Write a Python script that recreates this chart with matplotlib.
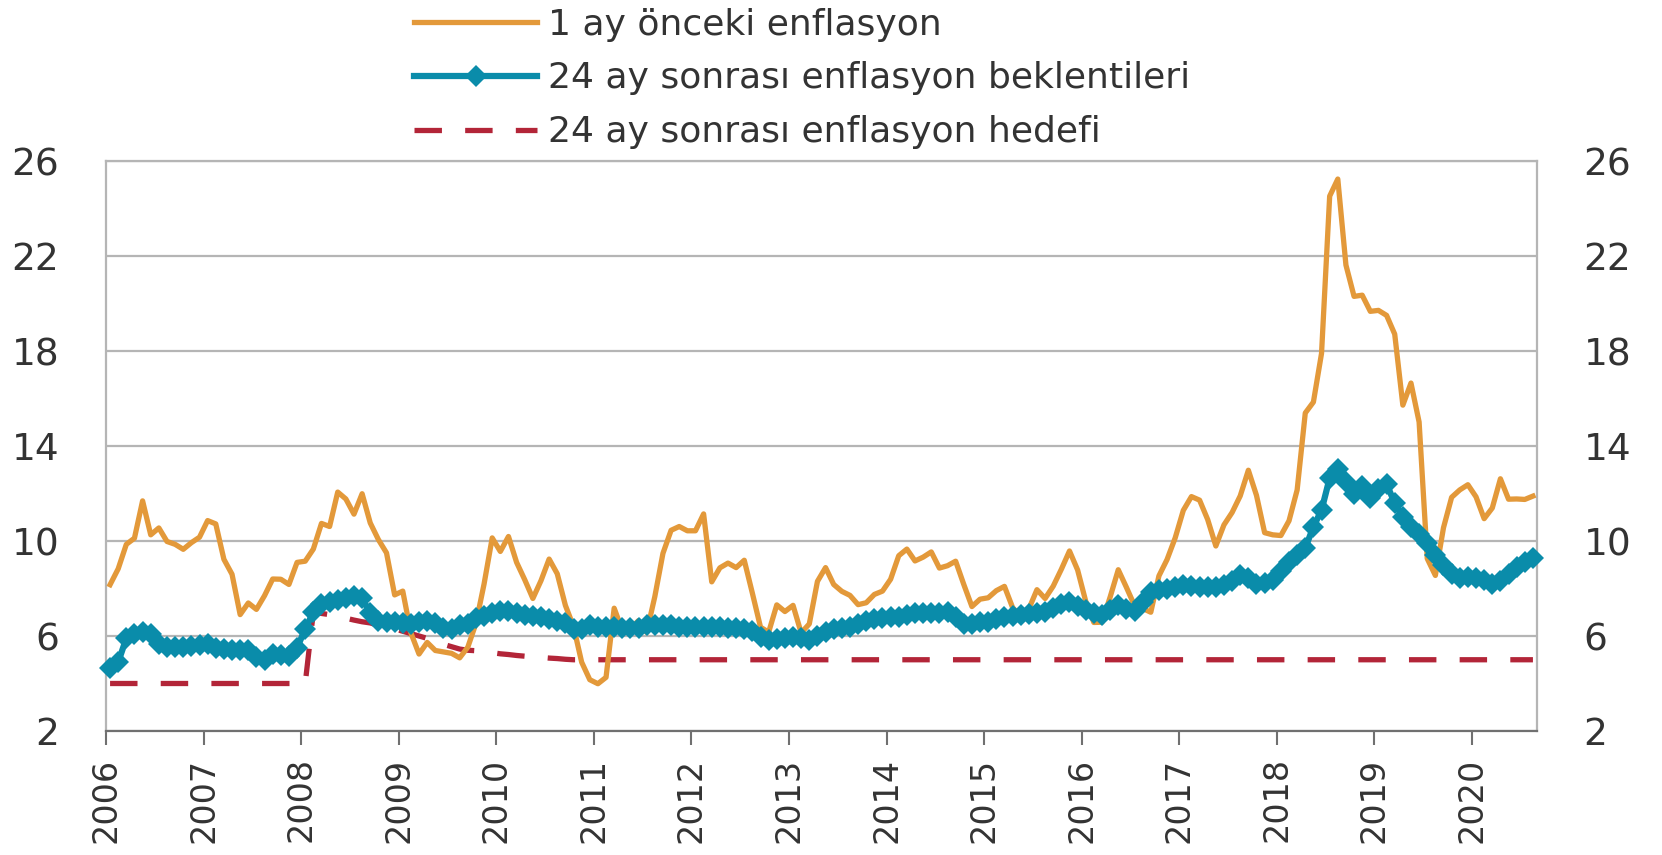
import numpy as np
import matplotlib
matplotlib.use("Agg")
import matplotlib.pyplot as plt
import matplotlib.transforms as mtransforms

# monthly categories Jan 2006 .. Aug 2020 (176 months)
years = ["2006", "2007", "2008", "2009", "2010", "2011", "2012", "2013",
         "2014", "2015", "2016", "2017", "2018", "2019", "2020"]

labels = ["1 ay önceki enflasyon",
          "24 ay sonrası enflasyon beklentileri",
          "24 ay sonrası enflasyon hedefi"]

# 1 ay önceki enflasyon
inflation = [
    8.16, 8.83, 9.86, 10.12, 11.69, 10.26, 10.55, 9.98, 9.86, 9.65, 9.93, 10.16,
    10.86, 10.72, 9.23, 8.60, 6.90, 7.39, 7.12, 7.70, 8.40, 8.39, 8.17, 9.10,
    9.15, 9.66, 10.74, 10.61, 12.06, 11.77, 11.13, 11.99, 10.76, 10.06, 9.50, 7.73,
    7.89, 6.13, 5.24, 5.73, 5.39, 5.33, 5.27, 5.08, 5.53, 6.53, 8.19, 10.13,
    9.56, 10.19, 9.10, 8.37, 7.58, 8.33, 9.24, 8.62, 7.29, 6.40, 4.90, 4.16,
    3.99, 4.26, 7.17, 6.24, 6.31, 6.65, 6.15, 7.66, 9.48, 10.45, 10.61, 10.43,
    10.43, 11.14, 8.28, 8.87, 9.07, 8.88, 9.19, 7.80, 6.37, 6.16, 7.31, 7.03,
    7.29, 6.13, 6.51, 8.30, 8.88, 8.17, 7.88, 7.71, 7.32, 7.40, 7.75, 7.89,
    8.39, 9.38, 9.66, 9.16, 9.32, 9.54, 8.86, 8.96, 9.15, 8.17, 7.24, 7.55,
    7.61, 7.91, 8.09, 7.20, 6.81, 7.14, 7.95, 7.58, 8.10, 8.81, 9.58, 8.78,
    7.46, 6.57, 6.58, 7.64, 8.79, 8.05, 7.28, 7.16, 7.00, 8.53, 9.22, 10.13,
    11.29, 11.87, 11.72, 10.90, 9.79, 10.68, 11.20, 11.90, 12.98, 11.92, 10.35, 10.26,
    10.23, 10.85, 12.15, 15.39, 15.85, 17.90, 24.52, 25.24, 21.62, 20.30, 20.35, 19.67,
    19.71, 19.50, 18.71, 15.72, 16.65, 15.01, 9.26, 8.55, 10.56, 11.84, 12.15, 12.37,
    11.86, 10.94, 11.39, 12.62, 11.76, 11.77, 11.75, 11.89,
]

# 24 ay sonrası enflasyon beklentileri
expectations = [
    4.65, 4.90, 5.90, 6.10, 6.15, 6.10, 5.65, 5.55, 5.55, 5.55, 5.60, 5.62,
    5.65, 5.50, 5.45, 5.42, 5.42, 5.40, 5.10, 5.00, 5.25, 5.20, 5.15, 5.50,
    6.30, 7.00, 7.35, 7.45, 7.50, 7.60, 7.70, 7.60, 6.95, 6.65, 6.60, 6.60,
    6.55, 6.50, 6.60, 6.65, 6.55, 6.35, 6.30, 6.45, 6.50, 6.75, 6.85, 6.95,
    7.05, 7.05, 6.95, 6.90, 6.85, 6.80, 6.70, 6.65, 6.55, 6.30, 6.30, 6.45,
    6.40, 6.40, 6.40, 6.35, 6.35, 6.35, 6.45, 6.45, 6.45, 6.45, 6.40, 6.40,
    6.40, 6.40, 6.40, 6.38, 6.35, 6.32, 6.30, 6.20, 5.95, 5.85, 5.88, 5.90,
    5.97, 5.90, 5.85, 6.00, 6.18, 6.30, 6.35, 6.40, 6.50, 6.65, 6.70, 6.75,
    6.78, 6.82, 6.90, 6.95, 6.95, 6.95, 6.98, 7.02, 6.80, 6.50, 6.50, 6.60,
    6.60, 6.70, 6.78, 6.85, 6.90, 6.92, 6.95, 7.00, 7.20, 7.35, 7.45, 7.25,
    7.10, 6.95, 6.90, 7.10, 7.30, 7.15, 7.05, 7.45, 7.85, 7.95, 8.00, 8.05,
    8.15, 8.10, 8.08, 8.08, 8.08, 8.15, 8.30, 8.55, 8.45, 8.20, 8.25, 8.35,
    8.75, 9.10, 9.40, 9.70, 10.60, 11.30, 12.65, 13.05, 12.50, 12.00, 12.30, 11.80,
    12.20, 12.40, 11.60, 11.00, 10.60, 10.30, 9.90, 9.40, 9.00, 8.60, 8.45, 8.50,
    8.45, 8.35, 8.20, 8.30, 8.60, 8.90, 9.10, 9.28,
]

# 24 ay sonrası enflasyon hedefi
target = [
    4.0, 4.0, 4.0, 4.0, 4.0, 4.0, 4.0, 4.0, 4.0, 4.0, 4.0, 4.0,
    4.0, 4.0, 4.0, 4.0, 4.0, 4.0, 4.0, 4.0, 4.0, 4.0, 4.0, 4.0,
    4.0, 7.0, 6.95, 6.9, 6.85, 6.75, 6.67, 6.6, 6.55, 6.45, 6.4, 6.3,
    6.2, 6.1, 6.0, 5.9, 5.75, 5.65, 5.55, 5.45, 5.4, 5.38, 5.34, 5.3,
    5.25, 5.22, 5.18, 5.15, 5.12, 5.1, 5.07, 5.05, 5.02, 5.0, 5.0, 5.0,
    5.0, 5.0, 5.0, 5.0, 5.0, 5.0, 5.0, 5.0, 5.0, 5.0, 5.0, 5.0,
    5.0, 5.0, 5.0, 5.0, 5.0, 5.0, 5.0, 5.0, 5.0, 5.0, 5.0, 5.0,
    5.0, 5.0, 5.0, 5.0, 5.0, 5.0, 5.0, 5.0, 5.0, 5.0, 5.0, 5.0,
    5.0, 5.0, 5.0, 5.0, 5.0, 5.0, 5.0, 5.0, 5.0, 5.0, 5.0, 5.0,
    5.0, 5.0, 5.0, 5.0, 5.0, 5.0, 5.0, 5.0, 5.0, 5.0, 5.0, 5.0,
    5.0, 5.0, 5.0, 5.0, 5.0, 5.0, 5.0, 5.0, 5.0, 5.0, 5.0, 5.0,
    5.0, 5.0, 5.0, 5.0, 5.0, 5.0, 5.0, 5.0, 5.0, 5.0, 5.0, 5.0,
    5.0, 5.0, 5.0, 5.0, 5.0, 5.0, 5.0, 5.0, 5.0, 5.0, 5.0, 5.0,
    5.0, 5.0, 5.0, 5.0, 5.0, 5.0, 5.0, 5.0, 5.0, 5.0, 5.0, 5.0,
    5.0, 5.0, 5.0, 5.0, 5.0, 5.0, 5.0, 5.0,
]

ORANGE = "#E3993A"
BLUE = "#0A8CAA"
RED = "#B32538"
TEXT = "#333333"

plt.rcParams["font.family"] = ["DejaVu Sans"]


def plot_chart():
    n = len(inflation)
    x = np.arange(n)

    fig = plt.figure(figsize=(16.62, 8.55), dpi=100)
    ax = fig.add_axes([106 / 1662, 1 - 731 / 855, 1431 / 1662, 570 / 855])

    ax.plot(x, target, color=RED, lw=3.8, dashes=(5.2, 4.4), zorder=3, label=labels[2])
    ax.plot(x, inflation, color=ORANGE, lw=3.8, zorder=4, label=labels[0])
    ax.plot(x, expectations, color=BLUE, lw=4.5, marker="D", markersize=11,
            markeredgewidth=0, zorder=5, clip_on=False, label=labels[1])

    ax.set_xlim(-0.5, n - 0.5)
    ax.set_ylim(2, 26)
    ax.set_yticks(np.arange(2, 27, 4))
    ax.yaxis.grid(True, color="#b5b5b5", lw=1.6)
    ax.set_axisbelow(True)

    ax.set_xticks(np.arange(len(years)) * 12 - 0.5)
    ax.set_xticklabels(years, rotation=90, va="top", ha="center")
    shift = mtransforms.ScaledTranslation(7 / 100, 0, fig.dpi_scale_trans)
    for lab in ax.get_xticklabels():
        lab.set_transform(lab.get_transform() + shift)

    ax.tick_params(axis="x", direction="out", length=10, width=1.5, color="#707070",
                   labelsize=24, labelcolor=TEXT, pad=9)
    ax.tick_params(axis="y", left=False, right=False, labelleft=True, labelright=True,
                   labelsize=27, labelcolor=TEXT, pad=30)

    for side in ["left", "right", "top"]:
        ax.spines[side].set_color("#b5b5b5")
        ax.spines[side].set_linewidth(1.6)
    ax.spines["bottom"].set_color("#707070")
    ax.spines["bottom"].set_linewidth(1.6)

    handles, labs = ax.get_legend_handles_labels()
    order = [1, 2, 0]
    fig.legend([handles[i] for i in order], [labs[i] for i in order],
               loc="upper left", bbox_to_anchor=(400 / 1662, 1.008), frameon=False,
               fontsize=26, handlelength=3.4, handletextpad=0.3, labelspacing=0.55,
               labelcolor=TEXT, borderaxespad=0)

    fig.savefig("out.png", dpi=100)


if __name__ == "__main__":
    plot_chart()
